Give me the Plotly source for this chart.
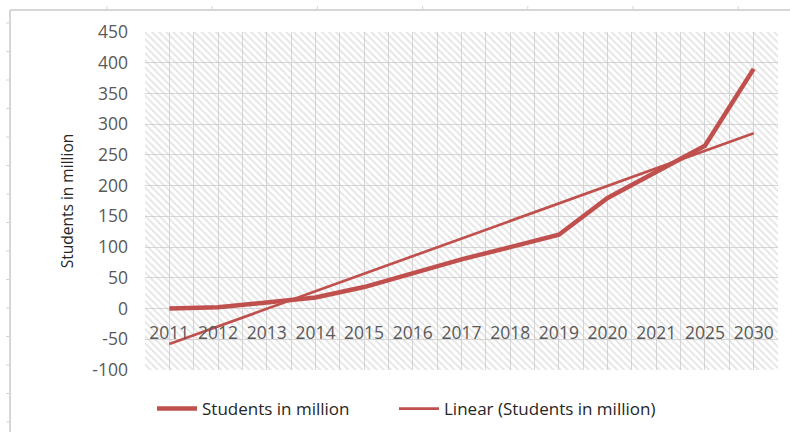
import numpy as np
import plotly.graph_objects as go

# Chart data
years = ["2011", "2012", "2013", "2014", "2015", "2016", "2017",
         "2018", "2019", "2020", "2021", "2025", "2030"]
students = [0, 2, 10, 18, 35, 58, 80, 100, 120, 180, 222, 265, 390]
y_ticks = [-100, -50, 0, 50, 100, 150, 200, 250, 300, 350, 400, 450]

Y_MIN, Y_MAX = -100, 450
W, H = 790, 434
M_L, M_R, M_T, M_B = 145, 12, 32, 64

RED = "#c0504d"
TXT = "#595959"
GRID = "#d6d6d6"
FONT = "Open Sans"

idx = np.arange(len(years))
# least-squares linear trend over the category positions
slope, intercept = np.polyfit(idx + 1, students, 1)
trend = slope * (idx + 1) + intercept

x_lo, x_hi = -0.5, len(years) - 0.5

fig = go.Figure()

# hatched plot-area background
fig.add_trace(go.Scatter(
    x=[x_lo, x_hi, x_hi, x_lo, x_lo],
    y=[Y_MIN, Y_MIN, Y_MAX, Y_MAX, Y_MIN],
    mode="lines", fill="toself", line=dict(width=0),
    fillcolor="rgba(0,0,0,0)",
    fillpattern=dict(shape="\\", fgcolor="#cacaca", bgcolor="rgba(255,255,255,0)",
                     size=5, solidity=0.35),
    hoverinfo="skip", showlegend=False,
))

fig.add_trace(go.Scatter(
    x=idx, y=students, mode="lines", name="Students in million",
    line=dict(color=RED, width=4.5), legend="legend",
))
fig.add_trace(go.Scatter(
    x=idx, y=trend, mode="lines", name="Linear (Students in million)",
    line=dict(color=RED, width=2.7), legend="legend2",
))

pw = W - M_L - M_R
ph = H - M_T - M_B


def px(x):
    return (x - M_L) / pw


def py(y):
    return (H - M_B - y) / ph


shapes = [
    dict(type="line", xref="paper", yref="paper", x0=px(10), x1=px(W), y0=py(10), y1=py(10),
         line=dict(color="#d6d6d6", width=2)),
    dict(type="line", xref="paper", yref="paper", x0=px(10), x1=px(10), y0=py(10), y1=py(432),
         line=dict(color="#d6d6d6", width=2)),
]
for k in range(15):
    yy = 23 + 28.5 * k
    if yy > 430:
        break
    shapes.append(dict(type="line", xref="paper", yref="paper", x0=px(6), x1=px(10),
                       y0=py(yy), y1=py(yy), line=dict(color="#d6d6d6", width=1)))
for k in range(8):
    xx = 107 + 105.2 * k
    if xx > W:
        break
    shapes.append(dict(type="line", xref="paper", yref="paper", x0=px(xx), x1=px(xx),
                       y0=py(6), y1=py(10), line=dict(color="#d6d6d6", width=1)))

legend_style = dict(
    orientation="h", xanchor="left", yanchor="middle", y=py(409),
    font=dict(size=17, color="#262626"), bgcolor="rgba(0,0,0,0)", itemwidth=40,
)

fig.update_layout(
    width=W, height=H,
    margin=dict(l=M_L, r=M_R, t=M_T, b=M_B, autoexpand=False),
    paper_bgcolor="white", plot_bgcolor="white",
    font=dict(family=FONT, color=TXT, size=15),
    shapes=shapes,
    xaxis=dict(
        range=[x_lo, x_hi], tickvals=list(idx), ticktext=years,
        showgrid=True, gridcolor=GRID, gridwidth=1,
        minor=dict(tickvals=[i - 0.5 for i in range(len(years) + 1)],
                   showgrid=True, gridcolor=GRID, gridwidth=1),
        zeroline=False, showline=False, ticks="",
        anchor="free", position=(0 - Y_MIN) / (Y_MAX - Y_MIN),
        ticklabelstandoff=12,
        tickfont=dict(size=17.5, color=TXT), fixedrange=True,
    ),
    yaxis=dict(
        range=[Y_MIN, Y_MAX], tickvals=y_ticks, ticktext=[str(v) for v in y_ticks],
        showgrid=True, gridcolor=GRID, gridwidth=1,
        zeroline=False, showline=False, ticks="",
        ticklabelstandoff=16,
        tickfont=dict(size=17.5, color=TXT),
        title=dict(text="Students in million", font=dict(size=15.5, color="#262626"),
                   standoff=14),
        fixedrange=True,
    ),
    legend=dict(x=px(152), **legend_style),
    legend2=dict(x=px(394), **legend_style),
)

fig.write_html("out.html")
